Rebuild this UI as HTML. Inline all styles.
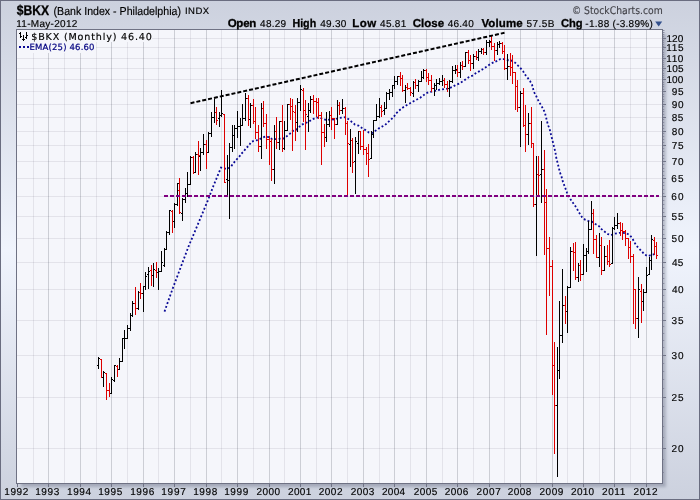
<!DOCTYPE html>
<html lang="en"><head><meta charset="utf-8"><title>$BKX Bank Index - Philadelphia</title>
<style>html,body{margin:0;padding:0;background:#d8dce8;overflow:hidden}svg{display:block}text{font-family:"Liberation Sans",Arial,sans-serif;text-rendering:geometricPrecision}</style>
</head><body>
<svg width="700" height="500" viewBox="0 0 700 500">
<defs><linearGradient id="bgg" x1="0" y1="0" x2="0" y2="1"><stop offset="0" stop-color="#ccd1de"/><stop offset="0.5" stop-color="#f0f4fd"/><stop offset="1" stop-color="#ccd1de"/></linearGradient><filter id="blur" x="-0.05" y="-0.05" width="1.1" height="1.1"><feGaussianBlur stdDeviation="1.6"/></filter><linearGradient id="sh" x1="0" y1="0" x2="1" y2="0"><stop offset="0" stop-color="#9a9db0"/><stop offset="1" stop-color="#d8dce8"/></linearGradient>
<linearGradient id="sv" x1="0" y1="0" x2="0" y2="1"><stop offset="0" stop-color="#9a9db0"/><stop offset="1" stop-color="#d8dce8"/></linearGradient></defs>
<rect x="0" y="0" width="700" height="500" fill="url(#bgg)"/>
<g shape-rendering="crispEdges">
<rect x="0" y="0" width="700" height="1" fill="#6a6d80"/>
<rect x="0" y="0" width="1" height="500" fill="#6a6d80"/>
<rect x="699" y="0" width="1" height="500" fill="#6a6d80"/>
<rect x="0" y="499" width="700" height="1" fill="#6a6d80"/>
</g><rect x="21" y="34" width="645" height="453" fill="#50546c" opacity="0.33" filter="url(#blur)"/><g shape-rendering="crispEdges">
<rect x="16" y="29" width="647" height="455" fill="#f5f6fb"/>
<rect x="33" y="30" width="1" height="453" fill="rgba(50,55,70,0.095)"/>
<rect x="48" y="30" width="1" height="453" fill="rgba(50,55,70,0.21)"/>
<rect x="64" y="30" width="1" height="453" fill="rgba(50,55,70,0.095)"/>
<rect x="80" y="30" width="1" height="453" fill="rgba(50,55,70,0.21)"/>
<rect x="96" y="30" width="1" height="453" fill="rgba(50,55,70,0.095)"/>
<rect x="111" y="30" width="1" height="453" fill="rgba(50,55,70,0.21)"/>
<rect x="127" y="30" width="1" height="453" fill="rgba(50,55,70,0.095)"/>
<rect x="143" y="30" width="1" height="453" fill="rgba(50,55,70,0.21)"/>
<rect x="158" y="30" width="1" height="453" fill="rgba(50,55,70,0.095)"/>
<rect x="174" y="30" width="1" height="453" fill="rgba(50,55,70,0.21)"/>
<rect x="190" y="30" width="1" height="453" fill="rgba(50,55,70,0.095)"/>
<rect x="206" y="30" width="1" height="453" fill="rgba(50,55,70,0.21)"/>
<rect x="221" y="30" width="1" height="453" fill="rgba(50,55,70,0.095)"/>
<rect x="237" y="30" width="1" height="453" fill="rgba(50,55,70,0.21)"/>
<rect x="253" y="30" width="1" height="453" fill="rgba(50,55,70,0.095)"/>
<rect x="269" y="30" width="1" height="453" fill="rgba(50,55,70,0.21)"/>
<rect x="284" y="30" width="1" height="453" fill="rgba(50,55,70,0.095)"/>
<rect x="300" y="30" width="1" height="453" fill="rgba(50,55,70,0.21)"/>
<rect x="316" y="30" width="1" height="453" fill="rgba(50,55,70,0.095)"/>
<rect x="331" y="30" width="1" height="453" fill="rgba(50,55,70,0.21)"/>
<rect x="347" y="30" width="1" height="453" fill="rgba(50,55,70,0.095)"/>
<rect x="363" y="30" width="1" height="453" fill="rgba(50,55,70,0.21)"/>
<rect x="379" y="30" width="1" height="453" fill="rgba(50,55,70,0.095)"/>
<rect x="394" y="30" width="1" height="453" fill="rgba(50,55,70,0.21)"/>
<rect x="410" y="30" width="1" height="453" fill="rgba(50,55,70,0.095)"/>
<rect x="426" y="30" width="1" height="453" fill="rgba(50,55,70,0.21)"/>
<rect x="442" y="30" width="1" height="453" fill="rgba(50,55,70,0.095)"/>
<rect x="457" y="30" width="1" height="453" fill="rgba(50,55,70,0.21)"/>
<rect x="473" y="30" width="1" height="453" fill="rgba(50,55,70,0.095)"/>
<rect x="489" y="30" width="1" height="453" fill="rgba(50,55,70,0.21)"/>
<rect x="504" y="30" width="1" height="453" fill="rgba(50,55,70,0.095)"/>
<rect x="520" y="30" width="1" height="453" fill="rgba(50,55,70,0.21)"/>
<rect x="536" y="30" width="1" height="453" fill="rgba(50,55,70,0.095)"/>
<rect x="552" y="30" width="1" height="453" fill="rgba(50,55,70,0.21)"/>
<rect x="567" y="30" width="1" height="453" fill="rgba(50,55,70,0.095)"/>
<rect x="583" y="30" width="1" height="453" fill="rgba(50,55,70,0.21)"/>
<rect x="599" y="30" width="1" height="453" fill="rgba(50,55,70,0.095)"/>
<rect x="614" y="30" width="1" height="453" fill="rgba(50,55,70,0.21)"/>
<rect x="630" y="30" width="1" height="453" fill="rgba(50,55,70,0.095)"/>
<rect x="646" y="30" width="1" height="453" fill="rgba(50,55,70,0.21)"/>
<rect x="17" y="448" width="645" height="1" fill="rgba(50,55,70,0.095)"/>
<rect x="17" y="397" width="645" height="1" fill="rgba(50,55,70,0.095)"/>
<rect x="17" y="355" width="645" height="1" fill="rgba(50,55,70,0.095)"/>
<rect x="17" y="320" width="645" height="1" fill="rgba(50,55,70,0.095)"/>
<rect x="17" y="289" width="645" height="1" fill="rgba(50,55,70,0.095)"/>
<rect x="17" y="262" width="645" height="1" fill="rgba(50,55,70,0.095)"/>
<rect x="17" y="238" width="645" height="1" fill="rgba(50,55,70,0.095)"/>
<rect x="17" y="216" width="645" height="1" fill="rgba(50,55,70,0.095)"/>
<rect x="17" y="196" width="645" height="1" fill="rgba(50,55,70,0.095)"/>
<rect x="17" y="178" width="645" height="1" fill="rgba(50,55,70,0.095)"/>
<rect x="17" y="161" width="645" height="1" fill="rgba(50,55,70,0.095)"/>
<rect x="17" y="145" width="645" height="1" fill="rgba(50,55,70,0.095)"/>
<rect x="17" y="131" width="645" height="1" fill="rgba(50,55,70,0.095)"/>
<rect x="17" y="117" width="645" height="1" fill="rgba(50,55,70,0.095)"/>
<rect x="17" y="104" width="645" height="1" fill="rgba(50,55,70,0.095)"/>
<rect x="17" y="91" width="645" height="1" fill="rgba(50,55,70,0.095)"/>
<rect x="17" y="79" width="645" height="1" fill="rgba(50,55,70,0.095)"/>
<rect x="17" y="68" width="645" height="1" fill="rgba(50,55,70,0.095)"/>
<rect x="17" y="58" width="645" height="1" fill="rgba(50,55,70,0.095)"/>
<rect x="17" y="47" width="645" height="1" fill="rgba(50,55,70,0.095)"/>
<rect x="17" y="38" width="645" height="1" fill="rgba(50,55,70,0.095)"/>
<rect x="17" y="30" width="135" height="12" fill="#f5f6fb"/>
<rect x="17" y="42" width="79" height="11" fill="#f5f6fb"/>
<rect x="16" y="29" width="647" height="1" fill="#6f7284"/>
<rect x="16" y="483" width="647" height="1" fill="#6f7284"/>
<rect x="16" y="29" width="1" height="455" fill="#6f7284"/>
<rect x="662" y="29" width="1" height="455" fill="#6f7284"/>
<rect x="663" y="472" width="1" height="1" fill="#8a8da0"/><rect x="664" y="472" width="1" height="1" fill="#aeb1c2"/>
<rect x="663" y="459" width="1" height="1" fill="#8a8da0"/><rect x="664" y="459" width="1" height="1" fill="#aeb1c2"/>
<rect x="663" y="448" width="3" height="1" fill="#74778a"/>
<rect x="663" y="437" width="1" height="1" fill="#8a8da0"/><rect x="664" y="437" width="1" height="1" fill="#aeb1c2"/>
<rect x="663" y="426" width="1" height="1" fill="#8a8da0"/><rect x="664" y="426" width="1" height="1" fill="#aeb1c2"/>
<rect x="663" y="416" width="1" height="1" fill="#8a8da0"/><rect x="664" y="416" width="1" height="1" fill="#aeb1c2"/>
<rect x="663" y="406" width="1" height="1" fill="#8a8da0"/><rect x="664" y="406" width="1" height="1" fill="#aeb1c2"/>
<rect x="663" y="397" width="3" height="1" fill="#74778a"/>
<rect x="663" y="388" width="1" height="1" fill="#8a8da0"/><rect x="664" y="388" width="1" height="1" fill="#aeb1c2"/>
<rect x="663" y="379" width="1" height="1" fill="#8a8da0"/><rect x="664" y="379" width="1" height="1" fill="#aeb1c2"/>
<rect x="663" y="371" width="1" height="1" fill="#8a8da0"/><rect x="664" y="371" width="1" height="1" fill="#aeb1c2"/>
<rect x="663" y="363" width="1" height="1" fill="#8a8da0"/><rect x="664" y="363" width="1" height="1" fill="#aeb1c2"/>
<rect x="663" y="355" width="3" height="1" fill="#74778a"/>
<rect x="663" y="347" width="1" height="1" fill="#8a8da0"/><rect x="664" y="347" width="1" height="1" fill="#aeb1c2"/>
<rect x="663" y="340" width="1" height="1" fill="#8a8da0"/><rect x="664" y="340" width="1" height="1" fill="#aeb1c2"/>
<rect x="663" y="333" width="1" height="1" fill="#8a8da0"/><rect x="664" y="333" width="1" height="1" fill="#aeb1c2"/>
<rect x="663" y="326" width="1" height="1" fill="#8a8da0"/><rect x="664" y="326" width="1" height="1" fill="#aeb1c2"/>
<rect x="663" y="320" width="3" height="1" fill="#74778a"/>
<rect x="663" y="313" width="1" height="1" fill="#8a8da0"/><rect x="664" y="313" width="1" height="1" fill="#aeb1c2"/>
<rect x="663" y="307" width="1" height="1" fill="#8a8da0"/><rect x="664" y="307" width="1" height="1" fill="#aeb1c2"/>
<rect x="663" y="301" width="1" height="1" fill="#8a8da0"/><rect x="664" y="301" width="1" height="1" fill="#aeb1c2"/>
<rect x="663" y="295" width="1" height="1" fill="#8a8da0"/><rect x="664" y="295" width="1" height="1" fill="#aeb1c2"/>
<rect x="663" y="289" width="3" height="1" fill="#74778a"/>
<rect x="663" y="283" width="1" height="1" fill="#8a8da0"/><rect x="664" y="283" width="1" height="1" fill="#aeb1c2"/>
<rect x="663" y="278" width="1" height="1" fill="#8a8da0"/><rect x="664" y="278" width="1" height="1" fill="#aeb1c2"/>
<rect x="663" y="273" width="1" height="1" fill="#8a8da0"/><rect x="664" y="273" width="1" height="1" fill="#aeb1c2"/>
<rect x="663" y="267" width="1" height="1" fill="#8a8da0"/><rect x="664" y="267" width="1" height="1" fill="#aeb1c2"/>
<rect x="663" y="262" width="3" height="1" fill="#74778a"/>
<rect x="663" y="257" width="1" height="1" fill="#8a8da0"/><rect x="664" y="257" width="1" height="1" fill="#aeb1c2"/>
<rect x="663" y="252" width="1" height="1" fill="#8a8da0"/><rect x="664" y="252" width="1" height="1" fill="#aeb1c2"/>
<rect x="663" y="247" width="1" height="1" fill="#8a8da0"/><rect x="664" y="247" width="1" height="1" fill="#aeb1c2"/>
<rect x="663" y="243" width="1" height="1" fill="#8a8da0"/><rect x="664" y="243" width="1" height="1" fill="#aeb1c2"/>
<rect x="663" y="238" width="3" height="1" fill="#74778a"/>
<rect x="663" y="234" width="1" height="1" fill="#8a8da0"/><rect x="664" y="234" width="1" height="1" fill="#aeb1c2"/>
<rect x="663" y="229" width="1" height="1" fill="#8a8da0"/><rect x="664" y="229" width="1" height="1" fill="#aeb1c2"/>
<rect x="663" y="225" width="1" height="1" fill="#8a8da0"/><rect x="664" y="225" width="1" height="1" fill="#aeb1c2"/>
<rect x="663" y="220" width="1" height="1" fill="#8a8da0"/><rect x="664" y="220" width="1" height="1" fill="#aeb1c2"/>
<rect x="663" y="216" width="3" height="1" fill="#74778a"/>
<rect x="663" y="212" width="1" height="1" fill="#8a8da0"/><rect x="664" y="212" width="1" height="1" fill="#aeb1c2"/>
<rect x="663" y="208" width="1" height="1" fill="#8a8da0"/><rect x="664" y="208" width="1" height="1" fill="#aeb1c2"/>
<rect x="663" y="204" width="1" height="1" fill="#8a8da0"/><rect x="664" y="204" width="1" height="1" fill="#aeb1c2"/>
<rect x="663" y="200" width="1" height="1" fill="#8a8da0"/><rect x="664" y="200" width="1" height="1" fill="#aeb1c2"/>
<rect x="663" y="196" width="3" height="1" fill="#74778a"/>
<rect x="663" y="193" width="1" height="1" fill="#8a8da0"/><rect x="664" y="193" width="1" height="1" fill="#aeb1c2"/>
<rect x="663" y="189" width="1" height="1" fill="#8a8da0"/><rect x="664" y="189" width="1" height="1" fill="#aeb1c2"/>
<rect x="663" y="185" width="1" height="1" fill="#8a8da0"/><rect x="664" y="185" width="1" height="1" fill="#aeb1c2"/>
<rect x="663" y="182" width="1" height="1" fill="#8a8da0"/><rect x="664" y="182" width="1" height="1" fill="#aeb1c2"/>
<rect x="663" y="178" width="3" height="1" fill="#74778a"/>
<rect x="663" y="175" width="1" height="1" fill="#8a8da0"/><rect x="664" y="175" width="1" height="1" fill="#aeb1c2"/>
<rect x="663" y="171" width="1" height="1" fill="#8a8da0"/><rect x="664" y="171" width="1" height="1" fill="#aeb1c2"/>
<rect x="663" y="168" width="1" height="1" fill="#8a8da0"/><rect x="664" y="168" width="1" height="1" fill="#aeb1c2"/>
<rect x="663" y="164" width="1" height="1" fill="#8a8da0"/><rect x="664" y="164" width="1" height="1" fill="#aeb1c2"/>
<rect x="663" y="161" width="3" height="1" fill="#74778a"/>
<rect x="663" y="158" width="1" height="1" fill="#8a8da0"/><rect x="664" y="158" width="1" height="1" fill="#aeb1c2"/>
<rect x="663" y="155" width="1" height="1" fill="#8a8da0"/><rect x="664" y="155" width="1" height="1" fill="#aeb1c2"/>
<rect x="663" y="151" width="1" height="1" fill="#8a8da0"/><rect x="664" y="151" width="1" height="1" fill="#aeb1c2"/>
<rect x="663" y="148" width="1" height="1" fill="#8a8da0"/><rect x="664" y="148" width="1" height="1" fill="#aeb1c2"/>
<rect x="663" y="145" width="3" height="1" fill="#74778a"/>
<rect x="663" y="142" width="1" height="1" fill="#8a8da0"/><rect x="664" y="142" width="1" height="1" fill="#aeb1c2"/>
<rect x="663" y="139" width="1" height="1" fill="#8a8da0"/><rect x="664" y="139" width="1" height="1" fill="#aeb1c2"/>
<rect x="663" y="136" width="1" height="1" fill="#8a8da0"/><rect x="664" y="136" width="1" height="1" fill="#aeb1c2"/>
<rect x="663" y="133" width="1" height="1" fill="#8a8da0"/><rect x="664" y="133" width="1" height="1" fill="#aeb1c2"/>
<rect x="663" y="131" width="3" height="1" fill="#74778a"/>
<rect x="663" y="128" width="1" height="1" fill="#8a8da0"/><rect x="664" y="128" width="1" height="1" fill="#aeb1c2"/>
<rect x="663" y="125" width="1" height="1" fill="#8a8da0"/><rect x="664" y="125" width="1" height="1" fill="#aeb1c2"/>
<rect x="663" y="122" width="1" height="1" fill="#8a8da0"/><rect x="664" y="122" width="1" height="1" fill="#aeb1c2"/>
<rect x="663" y="119" width="1" height="1" fill="#8a8da0"/><rect x="664" y="119" width="1" height="1" fill="#aeb1c2"/>
<rect x="663" y="117" width="3" height="1" fill="#74778a"/>
<rect x="663" y="114" width="1" height="1" fill="#8a8da0"/><rect x="664" y="114" width="1" height="1" fill="#aeb1c2"/>
<rect x="663" y="111" width="1" height="1" fill="#8a8da0"/><rect x="664" y="111" width="1" height="1" fill="#aeb1c2"/>
<rect x="663" y="109" width="1" height="1" fill="#8a8da0"/><rect x="664" y="109" width="1" height="1" fill="#aeb1c2"/>
<rect x="663" y="106" width="1" height="1" fill="#8a8da0"/><rect x="664" y="106" width="1" height="1" fill="#aeb1c2"/>
<rect x="663" y="104" width="3" height="1" fill="#74778a"/>
<rect x="663" y="101" width="1" height="1" fill="#8a8da0"/><rect x="664" y="101" width="1" height="1" fill="#aeb1c2"/>
<rect x="663" y="99" width="1" height="1" fill="#8a8da0"/><rect x="664" y="99" width="1" height="1" fill="#aeb1c2"/>
<rect x="663" y="96" width="1" height="1" fill="#8a8da0"/><rect x="664" y="96" width="1" height="1" fill="#aeb1c2"/>
<rect x="663" y="94" width="1" height="1" fill="#8a8da0"/><rect x="664" y="94" width="1" height="1" fill="#aeb1c2"/>
<rect x="663" y="91" width="3" height="1" fill="#74778a"/>
<rect x="663" y="89" width="1" height="1" fill="#8a8da0"/><rect x="664" y="89" width="1" height="1" fill="#aeb1c2"/>
<rect x="663" y="86" width="1" height="1" fill="#8a8da0"/><rect x="664" y="86" width="1" height="1" fill="#aeb1c2"/>
<rect x="663" y="84" width="1" height="1" fill="#8a8da0"/><rect x="664" y="84" width="1" height="1" fill="#aeb1c2"/>
<rect x="663" y="82" width="1" height="1" fill="#8a8da0"/><rect x="664" y="82" width="1" height="1" fill="#aeb1c2"/>
<rect x="663" y="79" width="3" height="1" fill="#74778a"/>
<rect x="663" y="77" width="1" height="1" fill="#8a8da0"/><rect x="664" y="77" width="1" height="1" fill="#aeb1c2"/>
<rect x="663" y="75" width="1" height="1" fill="#8a8da0"/><rect x="664" y="75" width="1" height="1" fill="#aeb1c2"/>
<rect x="663" y="73" width="1" height="1" fill="#8a8da0"/><rect x="664" y="73" width="1" height="1" fill="#aeb1c2"/>
<rect x="663" y="70" width="1" height="1" fill="#8a8da0"/><rect x="664" y="70" width="1" height="1" fill="#aeb1c2"/>
<rect x="663" y="68" width="3" height="1" fill="#74778a"/>
<rect x="663" y="66" width="1" height="1" fill="#8a8da0"/><rect x="664" y="66" width="1" height="1" fill="#aeb1c2"/>
<rect x="663" y="64" width="1" height="1" fill="#8a8da0"/><rect x="664" y="64" width="1" height="1" fill="#aeb1c2"/>
<rect x="663" y="62" width="1" height="1" fill="#8a8da0"/><rect x="664" y="62" width="1" height="1" fill="#aeb1c2"/>
<rect x="663" y="60" width="1" height="1" fill="#8a8da0"/><rect x="664" y="60" width="1" height="1" fill="#aeb1c2"/>
<rect x="663" y="58" width="3" height="1" fill="#74778a"/>
<rect x="663" y="56" width="1" height="1" fill="#8a8da0"/><rect x="664" y="56" width="1" height="1" fill="#aeb1c2"/>
<rect x="663" y="54" width="1" height="1" fill="#8a8da0"/><rect x="664" y="54" width="1" height="1" fill="#aeb1c2"/>
<rect x="663" y="52" width="1" height="1" fill="#8a8da0"/><rect x="664" y="52" width="1" height="1" fill="#aeb1c2"/>
<rect x="663" y="49" width="1" height="1" fill="#8a8da0"/><rect x="664" y="49" width="1" height="1" fill="#aeb1c2"/>
<rect x="663" y="47" width="3" height="1" fill="#74778a"/>
<rect x="663" y="46" width="1" height="1" fill="#8a8da0"/><rect x="664" y="46" width="1" height="1" fill="#aeb1c2"/>
<rect x="663" y="44" width="1" height="1" fill="#8a8da0"/><rect x="664" y="44" width="1" height="1" fill="#aeb1c2"/>
<rect x="663" y="42" width="1" height="1" fill="#8a8da0"/><rect x="664" y="42" width="1" height="1" fill="#aeb1c2"/>
<rect x="663" y="40" width="1" height="1" fill="#8a8da0"/><rect x="664" y="40" width="1" height="1" fill="#aeb1c2"/>
<rect x="663" y="38" width="3" height="1" fill="#74778a"/>
<rect x="663" y="36" width="1" height="1" fill="#8a8da0"/><rect x="664" y="36" width="1" height="1" fill="#aeb1c2"/>
<rect x="663" y="34" width="1" height="1" fill="#8a8da0"/><rect x="664" y="34" width="1" height="1" fill="#aeb1c2"/>
<rect x="663" y="32" width="1" height="1" fill="#8a8da0"/><rect x="664" y="32" width="1" height="1" fill="#aeb1c2"/>
<rect x="663" y="30" width="1" height="1" fill="#8a8da0"/><rect x="664" y="30" width="1" height="1" fill="#aeb1c2"/>
<rect x="17" y="484" width="1" height="3" fill="#6f7284"/>
<rect x="48" y="484" width="1" height="3" fill="#6f7284"/>
<rect x="80" y="484" width="1" height="3" fill="#6f7284"/>
<rect x="111" y="484" width="1" height="3" fill="#6f7284"/>
<rect x="143" y="484" width="1" height="3" fill="#6f7284"/>
<rect x="174" y="484" width="1" height="3" fill="#6f7284"/>
<rect x="206" y="484" width="1" height="3" fill="#6f7284"/>
<rect x="237" y="484" width="1" height="3" fill="#6f7284"/>
<rect x="269" y="484" width="1" height="3" fill="#6f7284"/>
<rect x="300" y="484" width="1" height="3" fill="#6f7284"/>
<rect x="331" y="484" width="1" height="3" fill="#6f7284"/>
<rect x="363" y="484" width="1" height="3" fill="#6f7284"/>
<rect x="394" y="484" width="1" height="3" fill="#6f7284"/>
<rect x="426" y="484" width="1" height="3" fill="#6f7284"/>
<rect x="457" y="484" width="1" height="3" fill="#6f7284"/>
<rect x="489" y="484" width="1" height="3" fill="#6f7284"/>
<rect x="520" y="484" width="1" height="3" fill="#6f7284"/>
<rect x="552" y="484" width="1" height="3" fill="#6f7284"/>
<rect x="583" y="484" width="1" height="3" fill="#6f7284"/>
<rect x="614" y="484" width="1" height="3" fill="#6f7284"/>
<rect x="646" y="484" width="1" height="3" fill="#6f7284"/>
</g>
<polyline transform="translate(0,-0.4)" fill="none" stroke="#0a0a96" stroke-width="1.8" stroke-dasharray="1.9 2.15" points="164.5,312.0 172.3,290.0 188.5,247.0 207.8,201.0 213.5,186.0 221.0,168.0 224.0,169.0 228.0,169.0 231.0,167.0 233.5,163.5 236.5,160.0 239.0,157.5 241.5,154.0 244.0,151.5 246.0,148.5 249.0,146.0 251.0,142.5 254.5,141.0 258.0,140.5 261.5,138.5 265.0,137.0 269.0,137.5 272.0,139.5 276.0,139.5 280.0,139.0 283.5,139.0 287.0,136.5 290.0,134.0 292.5,131.5 296.0,130.5 299.0,127.5 302.0,125.0 305.5,123.5 309.0,122.0 312.0,120.0 316.0,118.0 319.5,118.0 323.0,119.5 327.0,120.5 331.0,119.5 334.5,120.0 338.0,118.5 342.0,118.0 345.5,117.5 349.0,120.0 352.0,122.5 355.0,125.0 358.5,126.0 362.0,128.5 365.5,130.5 369.0,133.0 372.0,133.5 375.0,131.5 378.5,129.0 382.0,127.0 385.0,125.5 388.0,122.5 391.0,120.0 394.0,117.0 396.0,114.0 399.0,111.0 402.0,108.5 405.0,106.5 408.5,104.5 412.0,102.5 415.5,100.5 419.0,99.0 422.5,96.5 425.5,94.0 429.0,92.5 432.5,92.0 436.0,91.0 440.0,90.0 444.0,89.5 448.0,89.0 452.0,87.5 455.5,85.5 459.0,84.0 462.5,82.0 466.0,79.5 469.0,77.5 472.5,76.0 476.0,73.5 479.5,71.5 483.0,69.5 486.0,67.5 489.5,65.0 493.0,63.0 496.5,61.5 500.0,59.5 504.0,59.5 507.5,60.5 511.5,61.0 515.0,63.0 517.5,65.5 520.5,68.5 523.0,71.5 525.0,75.0 527.5,78.0 530.0,81.5 532.0,85.0 533.0,89.0 534.0,92.5 536.0,96.0 537.5,99.5 539.5,103.0 541.5,106.5 543.5,110.0 545.0,113.5 546.0,117.5 547.0,121.5 548.0,125.5 549.5,129.0 550.5,133.0 551.5,137.0 552.5,141.0 553.5,145.0 554.5,149.0 555.5,153.0 556.0,157.0 557.0,161.0 558.0,165.0 559.0,169.0 560.0,173.0 561.5,177.0 562.5,181.0 564.0,185.0 565.5,189.0 567.0,193.0 569.0,197.0 571.0,200.5 573.5,204.0 576.0,207.5 578.0,211.0 580.0,214.5 582.0,217.5 585.0,220.0 588.5,221.5 592.0,222.0 595.5,224.5 599.0,226.5 601.5,229.5 604.5,232.0 608.0,234.5 611.0,235.5 615.0,234.0 619.0,233.3 623.0,233.3 626.8,233.8 630.2,236.0 632.5,239.1 634.5,242.8 636.2,245.8 639.1,249.0 642.0,252.0 644.4,254.8 647.8,256.5 651.7,255.3 655.6,254.4"/>
<g shape-rendering="crispEdges">
<rect x="98" y="357" width="1" height="12" fill="#000000"/>
<rect x="97" y="365" width="1" height="1" fill="#000000"/>
<rect x="99" y="358" width="1" height="1" fill="#000000"/>
<rect x="101" y="359" width="1" height="19" fill="#dd0000"/>
<rect x="100" y="359" width="1" height="1" fill="#dd0000"/>
<rect x="102" y="377" width="1" height="1" fill="#dd0000"/>
<rect x="103" y="371" width="1" height="16" fill="#000000"/>
<rect x="102" y="377" width="1" height="1" fill="#000000"/>
<rect x="104" y="372" width="1" height="1" fill="#000000"/>
<rect x="106" y="373" width="1" height="27" fill="#dd0000"/>
<rect x="105" y="373" width="1" height="1" fill="#dd0000"/>
<rect x="107" y="390" width="1" height="1" fill="#dd0000"/>
<rect x="109" y="383" width="1" height="14" fill="#dd0000"/>
<rect x="108" y="390" width="1" height="1" fill="#dd0000"/>
<rect x="110" y="393" width="1" height="1" fill="#dd0000"/>
<rect x="111" y="377" width="1" height="17" fill="#000000"/>
<rect x="110" y="393" width="1" height="1" fill="#000000"/>
<rect x="112" y="379" width="1" height="1" fill="#000000"/>
<rect x="114" y="365" width="1" height="17" fill="#000000"/>
<rect x="113" y="380" width="1" height="1" fill="#000000"/>
<rect x="115" y="365" width="1" height="1" fill="#000000"/>
<rect x="117" y="365" width="1" height="12" fill="#dd0000"/>
<rect x="116" y="366" width="1" height="1" fill="#dd0000"/>
<rect x="118" y="369" width="1" height="1" fill="#dd0000"/>
<rect x="119" y="358" width="1" height="12" fill="#000000"/>
<rect x="118" y="369" width="1" height="1" fill="#000000"/>
<rect x="120" y="361" width="1" height="1" fill="#000000"/>
<rect x="122" y="338" width="1" height="24" fill="#000000"/>
<rect x="121" y="361" width="1" height="1" fill="#000000"/>
<rect x="123" y="338" width="1" height="1" fill="#000000"/>
<rect x="124" y="330" width="1" height="19" fill="#000000"/>
<rect x="123" y="338" width="1" height="1" fill="#000000"/>
<rect x="125" y="338" width="1" height="1" fill="#000000"/>
<rect x="127" y="325" width="1" height="14" fill="#000000"/>
<rect x="126" y="338" width="1" height="1" fill="#000000"/>
<rect x="128" y="328" width="1" height="1" fill="#000000"/>
<rect x="130" y="313" width="1" height="18" fill="#000000"/>
<rect x="129" y="328" width="1" height="1" fill="#000000"/>
<rect x="131" y="315" width="1" height="1" fill="#000000"/>
<rect x="132" y="301" width="1" height="16" fill="#000000"/>
<rect x="131" y="315" width="1" height="1" fill="#000000"/>
<rect x="133" y="303" width="1" height="1" fill="#000000"/>
<rect x="135" y="287" width="1" height="28" fill="#dd0000"/>
<rect x="134" y="303" width="1" height="1" fill="#dd0000"/>
<rect x="136" y="308" width="1" height="1" fill="#dd0000"/>
<rect x="138" y="291" width="1" height="19" fill="#000000"/>
<rect x="137" y="308" width="1" height="1" fill="#000000"/>
<rect x="139" y="292" width="1" height="1" fill="#000000"/>
<rect x="140" y="283" width="1" height="16" fill="#dd0000"/>
<rect x="139" y="292" width="1" height="1" fill="#dd0000"/>
<rect x="141" y="293" width="1" height="1" fill="#dd0000"/>
<rect x="143" y="286" width="1" height="26" fill="#000000"/>
<rect x="142" y="293" width="1" height="1" fill="#000000"/>
<rect x="144" y="286" width="1" height="1" fill="#000000"/>
<rect x="145" y="272" width="1" height="18" fill="#000000"/>
<rect x="144" y="286" width="1" height="1" fill="#000000"/>
<rect x="146" y="276" width="1" height="1" fill="#000000"/>
<rect x="148" y="267" width="1" height="22" fill="#000000"/>
<rect x="147" y="274" width="1" height="1" fill="#000000"/>
<rect x="149" y="271" width="1" height="1" fill="#000000"/>
<rect x="151" y="265" width="1" height="21" fill="#dd0000"/>
<rect x="150" y="270" width="1" height="1" fill="#dd0000"/>
<rect x="152" y="275" width="1" height="1" fill="#dd0000"/>
<rect x="153" y="263" width="1" height="24" fill="#000000"/>
<rect x="152" y="275" width="1" height="1" fill="#000000"/>
<rect x="154" y="269" width="1" height="1" fill="#000000"/>
<rect x="156" y="262" width="1" height="16" fill="#dd0000"/>
<rect x="155" y="270" width="1" height="1" fill="#dd0000"/>
<rect x="157" y="272" width="1" height="1" fill="#dd0000"/>
<rect x="158" y="268" width="1" height="22" fill="#000000"/>
<rect x="157" y="272" width="1" height="1" fill="#000000"/>
<rect x="159" y="271" width="1" height="1" fill="#000000"/>
<rect x="161" y="251" width="1" height="21" fill="#000000"/>
<rect x="160" y="271" width="1" height="1" fill="#000000"/>
<rect x="162" y="262" width="1" height="1" fill="#000000"/>
<rect x="164" y="248" width="1" height="19" fill="#000000"/>
<rect x="163" y="265" width="1" height="1" fill="#000000"/>
<rect x="165" y="249" width="1" height="1" fill="#000000"/>
<rect x="166" y="231" width="1" height="19" fill="#000000"/>
<rect x="165" y="249" width="1" height="1" fill="#000000"/>
<rect x="167" y="232" width="1" height="1" fill="#000000"/>
<rect x="169" y="210" width="1" height="25" fill="#000000"/>
<rect x="168" y="232" width="1" height="1" fill="#000000"/>
<rect x="170" y="210" width="1" height="1" fill="#000000"/>
<rect x="172" y="210" width="1" height="23" fill="#dd0000"/>
<rect x="171" y="211" width="1" height="1" fill="#dd0000"/>
<rect x="173" y="221" width="1" height="1" fill="#dd0000"/>
<rect x="174" y="203" width="1" height="25" fill="#000000"/>
<rect x="173" y="221" width="1" height="1" fill="#000000"/>
<rect x="175" y="204" width="1" height="1" fill="#000000"/>
<rect x="177" y="183" width="1" height="23" fill="#000000"/>
<rect x="176" y="204" width="1" height="1" fill="#000000"/>
<rect x="178" y="183" width="1" height="1" fill="#000000"/>
<rect x="179" y="178" width="1" height="36" fill="#dd0000"/>
<rect x="178" y="190" width="1" height="1" fill="#dd0000"/>
<rect x="180" y="212" width="1" height="1" fill="#dd0000"/>
<rect x="182" y="198" width="1" height="23" fill="#000000"/>
<rect x="181" y="213" width="1" height="1" fill="#000000"/>
<rect x="183" y="199" width="1" height="1" fill="#000000"/>
<rect x="185" y="188" width="1" height="15" fill="#000000"/>
<rect x="184" y="199" width="1" height="1" fill="#000000"/>
<rect x="186" y="193" width="1" height="1" fill="#000000"/>
<rect x="187" y="172" width="1" height="25" fill="#000000"/>
<rect x="186" y="193" width="1" height="1" fill="#000000"/>
<rect x="188" y="184" width="1" height="1" fill="#000000"/>
<rect x="190" y="156" width="1" height="29" fill="#000000"/>
<rect x="189" y="184" width="1" height="1" fill="#000000"/>
<rect x="191" y="157" width="1" height="1" fill="#000000"/>
<rect x="193" y="156" width="1" height="18" fill="#dd0000"/>
<rect x="192" y="157" width="1" height="1" fill="#dd0000"/>
<rect x="194" y="172" width="1" height="1" fill="#dd0000"/>
<rect x="195" y="152" width="1" height="21" fill="#000000"/>
<rect x="194" y="172" width="1" height="1" fill="#000000"/>
<rect x="196" y="154" width="1" height="1" fill="#000000"/>
<rect x="198" y="141" width="1" height="34" fill="#dd0000"/>
<rect x="197" y="154" width="1" height="1" fill="#dd0000"/>
<rect x="199" y="155" width="1" height="1" fill="#dd0000"/>
<rect x="200" y="148" width="1" height="23" fill="#000000"/>
<rect x="199" y="156" width="1" height="1" fill="#000000"/>
<rect x="201" y="152" width="1" height="1" fill="#000000"/>
<rect x="203" y="134" width="1" height="21" fill="#000000"/>
<rect x="202" y="152" width="1" height="1" fill="#000000"/>
<rect x="204" y="144" width="1" height="1" fill="#000000"/>
<rect x="206" y="140" width="1" height="29" fill="#dd0000"/>
<rect x="205" y="144" width="1" height="1" fill="#dd0000"/>
<rect x="207" y="152" width="1" height="1" fill="#dd0000"/>
<rect x="208" y="132" width="1" height="21" fill="#000000"/>
<rect x="207" y="152" width="1" height="1" fill="#000000"/>
<rect x="209" y="133" width="1" height="1" fill="#000000"/>
<rect x="211" y="112" width="1" height="25" fill="#000000"/>
<rect x="210" y="133" width="1" height="1" fill="#000000"/>
<rect x="212" y="117" width="1" height="1" fill="#000000"/>
<rect x="214" y="99" width="1" height="24" fill="#000000"/>
<rect x="213" y="117" width="1" height="1" fill="#000000"/>
<rect x="215" y="112" width="1" height="1" fill="#000000"/>
<rect x="216" y="107" width="1" height="18" fill="#dd0000"/>
<rect x="215" y="112" width="1" height="1" fill="#dd0000"/>
<rect x="217" y="120" width="1" height="1" fill="#dd0000"/>
<rect x="219" y="112" width="1" height="15" fill="#000000"/>
<rect x="218" y="118" width="1" height="1" fill="#000000"/>
<rect x="220" y="115" width="1" height="1" fill="#000000"/>
<rect x="221" y="90" width="1" height="27" fill="#000000"/>
<rect x="220" y="115" width="1" height="1" fill="#000000"/>
<rect x="222" y="113" width="1" height="1" fill="#000000"/>
<rect x="224" y="114" width="1" height="69" fill="#dd0000"/>
<rect x="223" y="114" width="1" height="1" fill="#dd0000"/>
<rect x="225" y="182" width="1" height="1" fill="#dd0000"/>
<rect x="227" y="155" width="1" height="41" fill="#000000"/>
<rect x="226" y="179" width="1" height="1" fill="#000000"/>
<rect x="228" y="180" width="1" height="1" fill="#000000"/>
<rect x="229" y="143" width="1" height="76" fill="#000000"/>
<rect x="228" y="180" width="1" height="1" fill="#000000"/>
<rect x="230" y="147" width="1" height="1" fill="#000000"/>
<rect x="232" y="125" width="1" height="27" fill="#000000"/>
<rect x="231" y="147" width="1" height="1" fill="#000000"/>
<rect x="233" y="135" width="1" height="1" fill="#000000"/>
<rect x="234" y="125" width="1" height="24" fill="#000000"/>
<rect x="233" y="135" width="1" height="1" fill="#000000"/>
<rect x="235" y="128" width="1" height="1" fill="#000000"/>
<rect x="237" y="111" width="1" height="27" fill="#000000"/>
<rect x="236" y="128" width="1" height="1" fill="#000000"/>
<rect x="238" y="126" width="1" height="1" fill="#000000"/>
<rect x="240" y="118" width="1" height="28" fill="#000000"/>
<rect x="239" y="126" width="1" height="1" fill="#000000"/>
<rect x="241" y="125" width="1" height="1" fill="#000000"/>
<rect x="242" y="104" width="1" height="22" fill="#000000"/>
<rect x="241" y="125" width="1" height="1" fill="#000000"/>
<rect x="243" y="118" width="1" height="1" fill="#000000"/>
<rect x="245" y="93" width="1" height="28" fill="#000000"/>
<rect x="244" y="118" width="1" height="1" fill="#000000"/>
<rect x="246" y="98" width="1" height="1" fill="#000000"/>
<rect x="248" y="95" width="1" height="31" fill="#dd0000"/>
<rect x="247" y="98" width="1" height="1" fill="#dd0000"/>
<rect x="249" y="119" width="1" height="1" fill="#dd0000"/>
<rect x="250" y="103" width="1" height="25" fill="#000000"/>
<rect x="249" y="119" width="1" height="1" fill="#000000"/>
<rect x="251" y="105" width="1" height="1" fill="#000000"/>
<rect x="253" y="99" width="1" height="25" fill="#dd0000"/>
<rect x="252" y="105" width="1" height="1" fill="#dd0000"/>
<rect x="254" y="121" width="1" height="1" fill="#dd0000"/>
<rect x="255" y="107" width="1" height="32" fill="#dd0000"/>
<rect x="254" y="121" width="1" height="1" fill="#dd0000"/>
<rect x="256" y="132" width="1" height="1" fill="#dd0000"/>
<rect x="258" y="125" width="1" height="27" fill="#dd0000"/>
<rect x="257" y="132" width="1" height="1" fill="#dd0000"/>
<rect x="259" y="146" width="1" height="1" fill="#dd0000"/>
<rect x="261" y="103" width="1" height="56" fill="#000000"/>
<rect x="260" y="146" width="1" height="1" fill="#000000"/>
<rect x="262" y="108" width="1" height="1" fill="#000000"/>
<rect x="263" y="101" width="1" height="26" fill="#dd0000"/>
<rect x="262" y="108" width="1" height="1" fill="#dd0000"/>
<rect x="264" y="123" width="1" height="1" fill="#dd0000"/>
<rect x="266" y="114" width="1" height="35" fill="#dd0000"/>
<rect x="265" y="123" width="1" height="1" fill="#dd0000"/>
<rect x="267" y="139" width="1" height="1" fill="#dd0000"/>
<rect x="269" y="136" width="1" height="29" fill="#dd0000"/>
<rect x="268" y="139" width="1" height="1" fill="#dd0000"/>
<rect x="270" y="141" width="1" height="1" fill="#dd0000"/>
<rect x="271" y="139" width="1" height="42" fill="#dd0000"/>
<rect x="270" y="141" width="1" height="1" fill="#dd0000"/>
<rect x="272" y="169" width="1" height="1" fill="#dd0000"/>
<rect x="274" y="125" width="1" height="59" fill="#000000"/>
<rect x="273" y="169" width="1" height="1" fill="#000000"/>
<rect x="275" y="131" width="1" height="1" fill="#000000"/>
<rect x="276" y="117" width="1" height="32" fill="#dd0000"/>
<rect x="275" y="131" width="1" height="1" fill="#dd0000"/>
<rect x="277" y="142" width="1" height="1" fill="#dd0000"/>
<rect x="279" y="121" width="1" height="29" fill="#000000"/>
<rect x="278" y="142" width="1" height="1" fill="#000000"/>
<rect x="280" y="121" width="1" height="1" fill="#000000"/>
<rect x="282" y="105" width="1" height="47" fill="#dd0000"/>
<rect x="281" y="121" width="1" height="1" fill="#dd0000"/>
<rect x="283" y="148" width="1" height="1" fill="#dd0000"/>
<rect x="284" y="121" width="1" height="29" fill="#000000"/>
<rect x="283" y="148" width="1" height="1" fill="#000000"/>
<rect x="285" y="130" width="1" height="1" fill="#000000"/>
<rect x="287" y="104" width="1" height="27" fill="#000000"/>
<rect x="286" y="130" width="1" height="1" fill="#000000"/>
<rect x="288" y="104" width="1" height="1" fill="#000000"/>
<rect x="290" y="98" width="1" height="22" fill="#dd0000"/>
<rect x="289" y="104" width="1" height="1" fill="#dd0000"/>
<rect x="291" y="106" width="1" height="1" fill="#dd0000"/>
<rect x="292" y="99" width="1" height="52" fill="#dd0000"/>
<rect x="291" y="106" width="1" height="1" fill="#dd0000"/>
<rect x="293" y="111" width="1" height="1" fill="#dd0000"/>
<rect x="295" y="105" width="1" height="36" fill="#dd0000"/>
<rect x="294" y="112" width="1" height="1" fill="#dd0000"/>
<rect x="296" y="122" width="1" height="1" fill="#dd0000"/>
<rect x="297" y="98" width="1" height="34" fill="#000000"/>
<rect x="296" y="122" width="1" height="1" fill="#000000"/>
<rect x="298" y="102" width="1" height="1" fill="#000000"/>
<rect x="300" y="85" width="1" height="26" fill="#000000"/>
<rect x="299" y="102" width="1" height="1" fill="#000000"/>
<rect x="301" y="89" width="1" height="1" fill="#000000"/>
<rect x="303" y="88" width="1" height="34" fill="#dd0000"/>
<rect x="302" y="90" width="1" height="1" fill="#dd0000"/>
<rect x="304" y="110" width="1" height="1" fill="#dd0000"/>
<rect x="305" y="100" width="1" height="50" fill="#dd0000"/>
<rect x="304" y="110" width="1" height="1" fill="#dd0000"/>
<rect x="306" y="114" width="1" height="1" fill="#dd0000"/>
<rect x="308" y="103" width="1" height="29" fill="#000000"/>
<rect x="307" y="116" width="1" height="1" fill="#000000"/>
<rect x="309" y="110" width="1" height="1" fill="#000000"/>
<rect x="310" y="96" width="1" height="17" fill="#000000"/>
<rect x="309" y="110" width="1" height="1" fill="#000000"/>
<rect x="311" y="99" width="1" height="1" fill="#000000"/>
<rect x="313" y="95" width="1" height="19" fill="#dd0000"/>
<rect x="312" y="99" width="1" height="1" fill="#dd0000"/>
<rect x="314" y="101" width="1" height="1" fill="#dd0000"/>
<rect x="316" y="98" width="1" height="19" fill="#dd0000"/>
<rect x="315" y="101" width="1" height="1" fill="#dd0000"/>
<rect x="317" y="102" width="1" height="1" fill="#dd0000"/>
<rect x="318" y="98" width="1" height="21" fill="#dd0000"/>
<rect x="317" y="102" width="1" height="1" fill="#dd0000"/>
<rect x="319" y="115" width="1" height="1" fill="#dd0000"/>
<rect x="321" y="112" width="1" height="53" fill="#dd0000"/>
<rect x="320" y="115" width="1" height="1" fill="#dd0000"/>
<rect x="322" y="132" width="1" height="1" fill="#dd0000"/>
<rect x="324" y="124" width="1" height="23" fill="#dd0000"/>
<rect x="323" y="132" width="1" height="1" fill="#dd0000"/>
<rect x="325" y="137" width="1" height="1" fill="#dd0000"/>
<rect x="326" y="112" width="1" height="30" fill="#000000"/>
<rect x="325" y="137" width="1" height="1" fill="#000000"/>
<rect x="327" y="124" width="1" height="1" fill="#000000"/>
<rect x="329" y="111" width="1" height="16" fill="#000000"/>
<rect x="328" y="124" width="1" height="1" fill="#000000"/>
<rect x="330" y="115" width="1" height="1" fill="#000000"/>
<rect x="331" y="107" width="1" height="23" fill="#dd0000"/>
<rect x="330" y="115" width="1" height="1" fill="#dd0000"/>
<rect x="332" y="118" width="1" height="1" fill="#dd0000"/>
<rect x="334" y="118" width="1" height="21" fill="#dd0000"/>
<rect x="333" y="118" width="1" height="1" fill="#dd0000"/>
<rect x="335" y="124" width="1" height="1" fill="#dd0000"/>
<rect x="337" y="100" width="1" height="25" fill="#000000"/>
<rect x="336" y="124" width="1" height="1" fill="#000000"/>
<rect x="338" y="105" width="1" height="1" fill="#000000"/>
<rect x="339" y="102" width="1" height="13" fill="#dd0000"/>
<rect x="338" y="105" width="1" height="1" fill="#dd0000"/>
<rect x="340" y="110" width="1" height="1" fill="#dd0000"/>
<rect x="342" y="99" width="1" height="15" fill="#000000"/>
<rect x="341" y="110" width="1" height="1" fill="#000000"/>
<rect x="343" y="108" width="1" height="1" fill="#000000"/>
<rect x="345" y="107" width="1" height="28" fill="#dd0000"/>
<rect x="344" y="108" width="1" height="1" fill="#dd0000"/>
<rect x="346" y="123" width="1" height="1" fill="#dd0000"/>
<rect x="347" y="121" width="1" height="75" fill="#dd0000"/>
<rect x="346" y="123" width="1" height="1" fill="#dd0000"/>
<rect x="348" y="143" width="1" height="1" fill="#dd0000"/>
<rect x="350" y="129" width="1" height="38" fill="#000000"/>
<rect x="349" y="144" width="1" height="1" fill="#000000"/>
<rect x="351" y="140" width="1" height="1" fill="#000000"/>
<rect x="352" y="138" width="1" height="35" fill="#dd0000"/>
<rect x="351" y="140" width="1" height="1" fill="#dd0000"/>
<rect x="353" y="162" width="1" height="1" fill="#dd0000"/>
<rect x="355" y="137" width="1" height="57" fill="#000000"/>
<rect x="354" y="161" width="1" height="1" fill="#000000"/>
<rect x="356" y="141" width="1" height="1" fill="#000000"/>
<rect x="358" y="131" width="1" height="23" fill="#000000"/>
<rect x="357" y="143" width="1" height="1" fill="#000000"/>
<rect x="359" y="131" width="1" height="1" fill="#000000"/>
<rect x="360" y="131" width="1" height="19" fill="#dd0000"/>
<rect x="359" y="131" width="1" height="1" fill="#dd0000"/>
<rect x="361" y="146" width="1" height="1" fill="#dd0000"/>
<rect x="363" y="130" width="1" height="25" fill="#dd0000"/>
<rect x="362" y="146" width="1" height="1" fill="#dd0000"/>
<rect x="364" y="149" width="1" height="1" fill="#dd0000"/>
<rect x="366" y="147" width="1" height="18" fill="#dd0000"/>
<rect x="365" y="149" width="1" height="1" fill="#dd0000"/>
<rect x="367" y="153" width="1" height="1" fill="#dd0000"/>
<rect x="368" y="144" width="1" height="33" fill="#dd0000"/>
<rect x="367" y="153" width="1" height="1" fill="#dd0000"/>
<rect x="369" y="159" width="1" height="1" fill="#dd0000"/>
<rect x="371" y="131" width="1" height="28" fill="#000000"/>
<rect x="370" y="158" width="1" height="1" fill="#000000"/>
<rect x="372" y="134" width="1" height="1" fill="#000000"/>
<rect x="373" y="120" width="1" height="18" fill="#000000"/>
<rect x="372" y="134" width="1" height="1" fill="#000000"/>
<rect x="374" y="120" width="1" height="1" fill="#000000"/>
<rect x="376" y="104" width="1" height="17" fill="#000000"/>
<rect x="375" y="120" width="1" height="1" fill="#000000"/>
<rect x="377" y="116" width="1" height="1" fill="#000000"/>
<rect x="379" y="98" width="1" height="20" fill="#000000"/>
<rect x="378" y="116" width="1" height="1" fill="#000000"/>
<rect x="380" y="107" width="1" height="1" fill="#000000"/>
<rect x="381" y="105" width="1" height="12" fill="#dd0000"/>
<rect x="380" y="107" width="1" height="1" fill="#dd0000"/>
<rect x="382" y="111" width="1" height="1" fill="#dd0000"/>
<rect x="384" y="102" width="1" height="13" fill="#000000"/>
<rect x="383" y="110" width="1" height="1" fill="#000000"/>
<rect x="385" y="108" width="1" height="1" fill="#000000"/>
<rect x="386" y="92" width="1" height="17" fill="#000000"/>
<rect x="385" y="108" width="1" height="1" fill="#000000"/>
<rect x="387" y="93" width="1" height="1" fill="#000000"/>
<rect x="389" y="89" width="1" height="11" fill="#000000"/>
<rect x="388" y="93" width="1" height="1" fill="#000000"/>
<rect x="390" y="92" width="1" height="1" fill="#000000"/>
<rect x="392" y="85" width="1" height="12" fill="#000000"/>
<rect x="391" y="92" width="1" height="1" fill="#000000"/>
<rect x="393" y="85" width="1" height="1" fill="#000000"/>
<rect x="394" y="76" width="1" height="13" fill="#000000"/>
<rect x="393" y="85" width="1" height="1" fill="#000000"/>
<rect x="395" y="81" width="1" height="1" fill="#000000"/>
<rect x="397" y="76" width="1" height="9" fill="#000000"/>
<rect x="396" y="81" width="1" height="1" fill="#000000"/>
<rect x="398" y="76" width="1" height="1" fill="#000000"/>
<rect x="400" y="72" width="1" height="14" fill="#dd0000"/>
<rect x="399" y="76" width="1" height="1" fill="#dd0000"/>
<rect x="401" y="78" width="1" height="1" fill="#dd0000"/>
<rect x="402" y="75" width="1" height="17" fill="#dd0000"/>
<rect x="401" y="78" width="1" height="1" fill="#dd0000"/>
<rect x="403" y="90" width="1" height="1" fill="#dd0000"/>
<rect x="405" y="85" width="1" height="18" fill="#000000"/>
<rect x="404" y="90" width="1" height="1" fill="#000000"/>
<rect x="406" y="87" width="1" height="1" fill="#000000"/>
<rect x="407" y="83" width="1" height="7" fill="#dd0000"/>
<rect x="406" y="87" width="1" height="1" fill="#dd0000"/>
<rect x="408" y="88" width="1" height="1" fill="#dd0000"/>
<rect x="410" y="87" width="1" height="9" fill="#dd0000"/>
<rect x="409" y="88" width="1" height="1" fill="#dd0000"/>
<rect x="411" y="92" width="1" height="1" fill="#dd0000"/>
<rect x="413" y="81" width="1" height="16" fill="#000000"/>
<rect x="412" y="93" width="1" height="1" fill="#000000"/>
<rect x="414" y="82" width="1" height="1" fill="#000000"/>
<rect x="415" y="79" width="1" height="10" fill="#dd0000"/>
<rect x="414" y="82" width="1" height="1" fill="#dd0000"/>
<rect x="416" y="85" width="1" height="1" fill="#dd0000"/>
<rect x="418" y="80" width="1" height="12" fill="#000000"/>
<rect x="417" y="85" width="1" height="1" fill="#000000"/>
<rect x="419" y="81" width="1" height="1" fill="#000000"/>
<rect x="421" y="71" width="1" height="11" fill="#000000"/>
<rect x="420" y="81" width="1" height="1" fill="#000000"/>
<rect x="422" y="77" width="1" height="1" fill="#000000"/>
<rect x="423" y="69" width="1" height="10" fill="#000000"/>
<rect x="422" y="77" width="1" height="1" fill="#000000"/>
<rect x="424" y="70" width="1" height="1" fill="#000000"/>
<rect x="426" y="69" width="1" height="13" fill="#dd0000"/>
<rect x="425" y="70" width="1" height="1" fill="#dd0000"/>
<rect x="427" y="77" width="1" height="1" fill="#dd0000"/>
<rect x="428" y="73" width="1" height="12" fill="#dd0000"/>
<rect x="427" y="77" width="1" height="1" fill="#dd0000"/>
<rect x="429" y="80" width="1" height="1" fill="#dd0000"/>
<rect x="431" y="75" width="1" height="17" fill="#dd0000"/>
<rect x="430" y="80" width="1" height="1" fill="#dd0000"/>
<rect x="432" y="88" width="1" height="1" fill="#dd0000"/>
<rect x="434" y="83" width="1" height="13" fill="#000000"/>
<rect x="433" y="88" width="1" height="1" fill="#000000"/>
<rect x="435" y="85" width="1" height="1" fill="#000000"/>
<rect x="436" y="79" width="1" height="11" fill="#000000"/>
<rect x="435" y="85" width="1" height="1" fill="#000000"/>
<rect x="437" y="83" width="1" height="1" fill="#000000"/>
<rect x="439" y="78" width="1" height="7" fill="#000000"/>
<rect x="438" y="83" width="1" height="1" fill="#000000"/>
<rect x="440" y="81" width="1" height="1" fill="#000000"/>
<rect x="442" y="75" width="1" height="11" fill="#000000"/>
<rect x="441" y="81" width="1" height="1" fill="#000000"/>
<rect x="443" y="80" width="1" height="1" fill="#000000"/>
<rect x="444" y="78" width="1" height="10" fill="#dd0000"/>
<rect x="443" y="80" width="1" height="1" fill="#dd0000"/>
<rect x="445" y="84" width="1" height="1" fill="#dd0000"/>
<rect x="447" y="81" width="1" height="11" fill="#dd0000"/>
<rect x="446" y="84" width="1" height="1" fill="#dd0000"/>
<rect x="448" y="88" width="1" height="1" fill="#dd0000"/>
<rect x="449" y="80" width="1" height="17" fill="#000000"/>
<rect x="448" y="88" width="1" height="1" fill="#000000"/>
<rect x="450" y="81" width="1" height="1" fill="#000000"/>
<rect x="452" y="66" width="1" height="17" fill="#000000"/>
<rect x="451" y="81" width="1" height="1" fill="#000000"/>
<rect x="453" y="70" width="1" height="1" fill="#000000"/>
<rect x="455" y="65" width="1" height="9" fill="#000000"/>
<rect x="454" y="70" width="1" height="1" fill="#000000"/>
<rect x="456" y="69" width="1" height="1" fill="#000000"/>
<rect x="457" y="65" width="1" height="12" fill="#dd0000"/>
<rect x="456" y="70" width="1" height="1" fill="#dd0000"/>
<rect x="458" y="72" width="1" height="1" fill="#dd0000"/>
<rect x="460" y="62" width="1" height="16" fill="#000000"/>
<rect x="459" y="72" width="1" height="1" fill="#000000"/>
<rect x="461" y="65" width="1" height="1" fill="#000000"/>
<rect x="462" y="61" width="1" height="9" fill="#dd0000"/>
<rect x="461" y="65" width="1" height="1" fill="#dd0000"/>
<rect x="463" y="66" width="1" height="1" fill="#dd0000"/>
<rect x="465" y="52" width="1" height="15" fill="#000000"/>
<rect x="464" y="66" width="1" height="1" fill="#000000"/>
<rect x="466" y="52" width="1" height="1" fill="#000000"/>
<rect x="468" y="50" width="1" height="14" fill="#dd0000"/>
<rect x="467" y="52" width="1" height="1" fill="#dd0000"/>
<rect x="469" y="60" width="1" height="1" fill="#dd0000"/>
<rect x="470" y="55" width="1" height="16" fill="#dd0000"/>
<rect x="469" y="60" width="1" height="1" fill="#dd0000"/>
<rect x="471" y="63" width="1" height="1" fill="#dd0000"/>
<rect x="473" y="54" width="1" height="15" fill="#000000"/>
<rect x="472" y="63" width="1" height="1" fill="#000000"/>
<rect x="474" y="56" width="1" height="1" fill="#000000"/>
<rect x="476" y="51" width="1" height="9" fill="#dd0000"/>
<rect x="475" y="56" width="1" height="1" fill="#dd0000"/>
<rect x="477" y="57" width="1" height="1" fill="#dd0000"/>
<rect x="478" y="49" width="1" height="12" fill="#000000"/>
<rect x="477" y="57" width="1" height="1" fill="#000000"/>
<rect x="479" y="51" width="1" height="1" fill="#000000"/>
<rect x="481" y="48" width="1" height="6" fill="#000000"/>
<rect x="480" y="51" width="1" height="1" fill="#000000"/>
<rect x="482" y="49" width="1" height="1" fill="#000000"/>
<rect x="483" y="48" width="1" height="7" fill="#dd0000"/>
<rect x="482" y="49" width="1" height="1" fill="#dd0000"/>
<rect x="484" y="52" width="1" height="1" fill="#dd0000"/>
<rect x="486" y="40" width="1" height="15" fill="#000000"/>
<rect x="485" y="52" width="1" height="1" fill="#000000"/>
<rect x="487" y="42" width="1" height="1" fill="#000000"/>
<rect x="489" y="40" width="1" height="7" fill="#000000"/>
<rect x="488" y="42" width="1" height="1" fill="#000000"/>
<rect x="490" y="41" width="1" height="1" fill="#000000"/>
<rect x="491" y="36" width="1" height="14" fill="#dd0000"/>
<rect x="490" y="42" width="1" height="1" fill="#dd0000"/>
<rect x="492" y="46" width="1" height="1" fill="#dd0000"/>
<rect x="494" y="43" width="1" height="18" fill="#dd0000"/>
<rect x="493" y="46" width="1" height="1" fill="#dd0000"/>
<rect x="495" y="50" width="1" height="1" fill="#dd0000"/>
<rect x="497" y="42" width="1" height="13" fill="#000000"/>
<rect x="496" y="50" width="1" height="1" fill="#000000"/>
<rect x="498" y="44" width="1" height="1" fill="#000000"/>
<rect x="499" y="41" width="1" height="7" fill="#000000"/>
<rect x="498" y="44" width="1" height="1" fill="#000000"/>
<rect x="500" y="43" width="1" height="1" fill="#000000"/>
<rect x="502" y="42" width="1" height="12" fill="#dd0000"/>
<rect x="501" y="43" width="1" height="1" fill="#dd0000"/>
<rect x="503" y="51" width="1" height="1" fill="#dd0000"/>
<rect x="504" y="45" width="1" height="25" fill="#dd0000"/>
<rect x="503" y="51" width="1" height="1" fill="#dd0000"/>
<rect x="505" y="68" width="1" height="1" fill="#dd0000"/>
<rect x="507" y="54" width="1" height="26" fill="#000000"/>
<rect x="506" y="68" width="1" height="1" fill="#000000"/>
<rect x="508" y="66" width="1" height="1" fill="#000000"/>
<rect x="510" y="53" width="1" height="23" fill="#dd0000"/>
<rect x="509" y="66" width="1" height="1" fill="#dd0000"/>
<rect x="511" y="67" width="1" height="1" fill="#dd0000"/>
<rect x="512" y="55" width="1" height="29" fill="#dd0000"/>
<rect x="511" y="67" width="1" height="1" fill="#dd0000"/>
<rect x="513" y="72" width="1" height="1" fill="#dd0000"/>
<rect x="515" y="72" width="1" height="38" fill="#dd0000"/>
<rect x="514" y="72" width="1" height="1" fill="#dd0000"/>
<rect x="516" y="86" width="1" height="1" fill="#dd0000"/>
<rect x="517" y="80" width="1" height="32" fill="#dd0000"/>
<rect x="516" y="86" width="1" height="1" fill="#dd0000"/>
<rect x="518" y="107" width="1" height="1" fill="#dd0000"/>
<rect x="520" y="91" width="1" height="56" fill="#000000"/>
<rect x="519" y="107" width="1" height="1" fill="#000000"/>
<rect x="521" y="93" width="1" height="1" fill="#000000"/>
<rect x="523" y="88" width="1" height="39" fill="#dd0000"/>
<rect x="522" y="93" width="1" height="1" fill="#dd0000"/>
<rect x="524" y="125" width="1" height="1" fill="#dd0000"/>
<rect x="525" y="105" width="1" height="47" fill="#dd0000"/>
<rect x="524" y="125" width="1" height="1" fill="#dd0000"/>
<rect x="526" y="134" width="1" height="1" fill="#dd0000"/>
<rect x="528" y="113" width="1" height="32" fill="#000000"/>
<rect x="527" y="134" width="1" height="1" fill="#000000"/>
<rect x="529" y="123" width="1" height="1" fill="#000000"/>
<rect x="531" y="107" width="1" height="41" fill="#dd0000"/>
<rect x="530" y="123" width="1" height="1" fill="#dd0000"/>
<rect x="532" y="143" width="1" height="1" fill="#dd0000"/>
<rect x="533" y="143" width="1" height="64" fill="#dd0000"/>
<rect x="532" y="143" width="1" height="1" fill="#dd0000"/>
<rect x="534" y="204" width="1" height="1" fill="#dd0000"/>
<rect x="536" y="156" width="1" height="100" fill="#000000"/>
<rect x="535" y="204" width="1" height="1" fill="#000000"/>
<rect x="537" y="174" width="1" height="1" fill="#000000"/>
<rect x="538" y="156" width="1" height="41" fill="#dd0000"/>
<rect x="537" y="174" width="1" height="1" fill="#dd0000"/>
<rect x="539" y="175" width="1" height="1" fill="#dd0000"/>
<rect x="541" y="121" width="1" height="82" fill="#000000"/>
<rect x="540" y="174" width="1" height="1" fill="#000000"/>
<rect x="542" y="169" width="1" height="1" fill="#000000"/>
<rect x="544" y="150" width="1" height="105" fill="#dd0000"/>
<rect x="543" y="169" width="1" height="1" fill="#dd0000"/>
<rect x="545" y="202" width="1" height="1" fill="#dd0000"/>
<rect x="546" y="189" width="1" height="146" fill="#dd0000"/>
<rect x="545" y="202" width="1" height="1" fill="#dd0000"/>
<rect x="547" y="248" width="1" height="1" fill="#dd0000"/>
<rect x="549" y="237" width="1" height="59" fill="#dd0000"/>
<rect x="548" y="248" width="1" height="1" fill="#dd0000"/>
<rect x="550" y="266" width="1" height="1" fill="#dd0000"/>
<rect x="552" y="260" width="1" height="135" fill="#dd0000"/>
<rect x="551" y="266" width="1" height="1" fill="#dd0000"/>
<rect x="553" y="365" width="1" height="1" fill="#dd0000"/>
<rect x="554" y="342" width="1" height="112" fill="#dd0000"/>
<rect x="553" y="365" width="1" height="1" fill="#dd0000"/>
<rect x="555" y="405" width="1" height="1" fill="#dd0000"/>
<rect x="557" y="347" width="1" height="130" fill="#000000"/>
<rect x="556" y="405" width="1" height="1" fill="#000000"/>
<rect x="558" y="370" width="1" height="1" fill="#000000"/>
<rect x="559" y="301" width="1" height="78" fill="#000000"/>
<rect x="558" y="370" width="1" height="1" fill="#000000"/>
<rect x="560" y="335" width="1" height="1" fill="#000000"/>
<rect x="562" y="269" width="1" height="74" fill="#000000"/>
<rect x="561" y="335" width="1" height="1" fill="#000000"/>
<rect x="563" y="305" width="1" height="1" fill="#000000"/>
<rect x="565" y="296" width="1" height="28" fill="#dd0000"/>
<rect x="564" y="305" width="1" height="1" fill="#dd0000"/>
<rect x="566" y="311" width="1" height="1" fill="#dd0000"/>
<rect x="567" y="286" width="1" height="47" fill="#000000"/>
<rect x="566" y="311" width="1" height="1" fill="#000000"/>
<rect x="568" y="287" width="1" height="1" fill="#000000"/>
<rect x="570" y="247" width="1" height="41" fill="#000000"/>
<rect x="569" y="287" width="1" height="1" fill="#000000"/>
<rect x="571" y="251" width="1" height="1" fill="#000000"/>
<rect x="573" y="243" width="1" height="28" fill="#dd0000"/>
<rect x="572" y="251" width="1" height="1" fill="#dd0000"/>
<rect x="574" y="252" width="1" height="1" fill="#dd0000"/>
<rect x="575" y="242" width="1" height="38" fill="#dd0000"/>
<rect x="574" y="252" width="1" height="1" fill="#dd0000"/>
<rect x="576" y="277" width="1" height="1" fill="#dd0000"/>
<rect x="578" y="263" width="1" height="19" fill="#000000"/>
<rect x="577" y="277" width="1" height="1" fill="#000000"/>
<rect x="579" y="265" width="1" height="1" fill="#000000"/>
<rect x="580" y="260" width="1" height="21" fill="#dd0000"/>
<rect x="579" y="265" width="1" height="1" fill="#dd0000"/>
<rect x="581" y="274" width="1" height="1" fill="#dd0000"/>
<rect x="583" y="244" width="1" height="31" fill="#000000"/>
<rect x="582" y="274" width="1" height="1" fill="#000000"/>
<rect x="584" y="255" width="1" height="1" fill="#000000"/>
<rect x="586" y="248" width="1" height="24" fill="#000000"/>
<rect x="585" y="255" width="1" height="1" fill="#000000"/>
<rect x="587" y="251" width="1" height="1" fill="#000000"/>
<rect x="588" y="221" width="1" height="33" fill="#000000"/>
<rect x="587" y="251" width="1" height="1" fill="#000000"/>
<rect x="589" y="229" width="1" height="1" fill="#000000"/>
<rect x="591" y="201" width="1" height="29" fill="#000000"/>
<rect x="590" y="229" width="1" height="1" fill="#000000"/>
<rect x="592" y="213" width="1" height="1" fill="#000000"/>
<rect x="593" y="209" width="1" height="45" fill="#dd0000"/>
<rect x="592" y="213" width="1" height="1" fill="#dd0000"/>
<rect x="594" y="239" width="1" height="1" fill="#dd0000"/>
<rect x="596" y="235" width="1" height="23" fill="#dd0000"/>
<rect x="595" y="239" width="1" height="1" fill="#dd0000"/>
<rect x="597" y="257" width="1" height="1" fill="#dd0000"/>
<rect x="599" y="233" width="1" height="34" fill="#000000"/>
<rect x="598" y="257" width="1" height="1" fill="#000000"/>
<rect x="600" y="245" width="1" height="1" fill="#000000"/>
<rect x="601" y="237" width="1" height="38" fill="#dd0000"/>
<rect x="600" y="245" width="1" height="1" fill="#dd0000"/>
<rect x="602" y="270" width="1" height="1" fill="#dd0000"/>
<rect x="604" y="246" width="1" height="25" fill="#000000"/>
<rect x="603" y="270" width="1" height="1" fill="#000000"/>
<rect x="605" y="256" width="1" height="1" fill="#000000"/>
<rect x="607" y="245" width="1" height="20" fill="#dd0000"/>
<rect x="606" y="256" width="1" height="1" fill="#dd0000"/>
<rect x="608" y="261" width="1" height="1" fill="#dd0000"/>
<rect x="609" y="240" width="1" height="27" fill="#dd0000"/>
<rect x="608" y="261" width="1" height="1" fill="#dd0000"/>
<rect x="610" y="264" width="1" height="1" fill="#dd0000"/>
<rect x="612" y="227" width="1" height="37" fill="#000000"/>
<rect x="611" y="263" width="1" height="1" fill="#000000"/>
<rect x="613" y="228" width="1" height="1" fill="#000000"/>
<rect x="614" y="217" width="1" height="13" fill="#000000"/>
<rect x="613" y="228" width="1" height="1" fill="#000000"/>
<rect x="615" y="225" width="1" height="1" fill="#000000"/>
<rect x="617" y="213" width="1" height="16" fill="#000000"/>
<rect x="616" y="225" width="1" height="1" fill="#000000"/>
<rect x="618" y="223" width="1" height="1" fill="#000000"/>
<rect x="620" y="222" width="1" height="14" fill="#dd0000"/>
<rect x="619" y="223" width="1" height="1" fill="#dd0000"/>
<rect x="621" y="230" width="1" height="1" fill="#dd0000"/>
<rect x="622" y="223" width="1" height="17" fill="#dd0000"/>
<rect x="621" y="230" width="1" height="1" fill="#dd0000"/>
<rect x="623" y="231" width="1" height="1" fill="#dd0000"/>
<rect x="625" y="230" width="1" height="16" fill="#dd0000"/>
<rect x="624" y="231" width="1" height="1" fill="#dd0000"/>
<rect x="626" y="238" width="1" height="1" fill="#dd0000"/>
<rect x="628" y="238" width="1" height="21" fill="#dd0000"/>
<rect x="627" y="238" width="1" height="1" fill="#dd0000"/>
<rect x="629" y="247" width="1" height="1" fill="#dd0000"/>
<rect x="630" y="241" width="1" height="22" fill="#dd0000"/>
<rect x="629" y="247" width="1" height="1" fill="#dd0000"/>
<rect x="631" y="256" width="1" height="1" fill="#dd0000"/>
<rect x="633" y="254" width="1" height="70" fill="#dd0000"/>
<rect x="632" y="256" width="1" height="1" fill="#dd0000"/>
<rect x="634" y="289" width="1" height="1" fill="#dd0000"/>
<rect x="635" y="289" width="1" height="40" fill="#dd0000"/>
<rect x="634" y="289" width="1" height="1" fill="#dd0000"/>
<rect x="636" y="318" width="1" height="1" fill="#dd0000"/>
<rect x="638" y="277" width="1" height="61" fill="#000000"/>
<rect x="637" y="318" width="1" height="1" fill="#000000"/>
<rect x="639" y="289" width="1" height="1" fill="#000000"/>
<rect x="641" y="284" width="1" height="39" fill="#dd0000"/>
<rect x="640" y="291" width="1" height="1" fill="#dd0000"/>
<rect x="642" y="301" width="1" height="1" fill="#dd0000"/>
<rect x="643" y="289" width="1" height="22" fill="#000000"/>
<rect x="642" y="301" width="1" height="1" fill="#000000"/>
<rect x="644" y="292" width="1" height="1" fill="#000000"/>
<rect x="646" y="267" width="1" height="26" fill="#000000"/>
<rect x="645" y="292" width="1" height="1" fill="#000000"/>
<rect x="647" y="275" width="1" height="1" fill="#000000"/>
<rect x="649" y="257" width="1" height="18" fill="#000000"/>
<rect x="648" y="274" width="1" height="1" fill="#000000"/>
<rect x="650" y="260" width="1" height="1" fill="#000000"/>
<rect x="651" y="235" width="1" height="35" fill="#000000"/>
<rect x="650" y="260" width="1" height="1" fill="#000000"/>
<rect x="652" y="239" width="1" height="1" fill="#000000"/>
<rect x="654" y="237" width="1" height="18" fill="#dd0000"/>
<rect x="653" y="240" width="1" height="1" fill="#dd0000"/>
<rect x="655" y="246" width="1" height="1" fill="#dd0000"/>
<rect x="656" y="242" width="1" height="17" fill="#dd0000"/>
<rect x="655" y="246" width="1" height="1" fill="#dd0000"/>
<rect x="657" y="255" width="1" height="1" fill="#dd0000"/>
</g>
<line x1="164" y1="196" x2="659" y2="196" stroke="#800080" stroke-width="2" stroke-dasharray="4 2" shape-rendering="crispEdges"/>
<line x1="190.5" y1="103.2" x2="504.5" y2="32.8" stroke="#000" stroke-width="2" stroke-dasharray="4 2"/>
<text x="16.77" y="14.7" font-size="14" font-weight="bold" textLength="32.33" lengthAdjust="spacingAndGlyphs" style="font-family:'Liberation Sans',Arial,sans-serif;fill:#000;stroke:#000;stroke-width:0.3px">$BKX</text>
<text x="53.55" y="14.7" font-size="11.6" font-weight="normal" textLength="127.39" lengthAdjust="spacingAndGlyphs" style="font-family:'Liberation Sans',Arial,sans-serif;fill:#000;stroke:#000;stroke-width:0.16px">(Bank Index - Philadelphia)</text>
<text x="184.95" y="14.0" font-size="9.5" font-weight="normal" textLength="24.23" lengthAdjust="spacing" style="font-family:'Liberation Sans',Arial,sans-serif;fill:#000;stroke:#000;stroke-width:0.16px">INDX</text>
<text x="571.90" y="13.7" font-size="10.5" font-weight="normal" textLength="90.82" lengthAdjust="spacingAndGlyphs" style="font-family:'DejaVu Sans',Verdana,sans-serif;fill:#3e3e44;stroke:#3e3e44;stroke-width:0.12px">© StockCharts.com</text>
<text x="16.23" y="27.2" font-size="10" font-weight="normal" textLength="61.08" lengthAdjust="spacing" style="font-family:'Liberation Sans',Arial,sans-serif;fill:#000;stroke:#000;stroke-width:0.16px">11-May-2012</text>
<text x="227.68" y="27.2" font-size="11.5" font-weight="bold" textLength="28.63" lengthAdjust="spacing" style="font-family:'Liberation Sans',Arial,sans-serif;fill:#000;stroke:#000;stroke-width:0.3px">Open</text>
<text x="260.11" y="27.2" font-size="10" font-weight="normal" textLength="26.04" lengthAdjust="spacing" style="font-family:'Liberation Sans',Arial,sans-serif;fill:#000;stroke:#000;stroke-width:0.16px">48.29</text>
<text x="292.42" y="27.2" font-size="11.5" font-weight="bold" textLength="23.78" lengthAdjust="spacingAndGlyphs" style="font-family:'Liberation Sans',Arial,sans-serif;fill:#000;stroke:#000;stroke-width:0.3px">High</text>
<text x="320.15" y="27.2" font-size="10" font-weight="normal" textLength="26.25" lengthAdjust="spacing" style="font-family:'Liberation Sans',Arial,sans-serif;fill:#000;stroke:#000;stroke-width:0.16px">49.30</text>
<text x="352.36" y="27.2" font-size="11.5" font-weight="bold" textLength="23.74" lengthAdjust="spacing" style="font-family:'Liberation Sans',Arial,sans-serif;fill:#000;stroke:#000;stroke-width:0.3px">Low</text>
<text x="380.06" y="27.2" font-size="10" font-weight="normal" textLength="26.21" lengthAdjust="spacing" style="font-family:'Liberation Sans',Arial,sans-serif;fill:#000;stroke:#000;stroke-width:0.16px">45.81</text>
<text x="412.69" y="27.2" font-size="11.5" font-weight="bold" textLength="31.49" lengthAdjust="spacing" style="font-family:'Liberation Sans',Arial,sans-serif;fill:#000;stroke:#000;stroke-width:0.3px">Close</text>
<text x="447.71" y="27.2" font-size="10" font-weight="normal" textLength="26.02" lengthAdjust="spacing" style="font-family:'Liberation Sans',Arial,sans-serif;fill:#000;stroke:#000;stroke-width:0.16px">46.40</text>
<text x="481.38" y="27.2" font-size="11.5" font-weight="bold" textLength="41.29" lengthAdjust="spacing" style="font-family:'Liberation Sans',Arial,sans-serif;fill:#000;stroke:#000;stroke-width:0.3px">Volume</text>
<text x="526.58" y="27.2" font-size="10" font-weight="normal" textLength="27.76" lengthAdjust="spacing" style="font-family:'Liberation Sans',Arial,sans-serif;fill:#000;stroke:#000;stroke-width:0.16px">57.5B</text>
<text x="560.97" y="27.2" font-size="11.5" font-weight="bold" textLength="21.72" lengthAdjust="spacingAndGlyphs" style="font-family:'Liberation Sans',Arial,sans-serif;fill:#000;stroke:#000;stroke-width:0.3px">Chg</text>
<text x="585.37" y="27.2" font-size="10" font-weight="normal" textLength="67.39" lengthAdjust="spacing" style="font-family:'Liberation Sans',Arial,sans-serif;fill:#000;stroke:#000;stroke-width:0.16px">-1.88 (-3.89%)</text>
<text x="31.25" y="40.0" font-size="9.6" font-weight="normal" textLength="120.55" lengthAdjust="spacing" style="font-family:'DejaVu Sans',Verdana,sans-serif;fill:#000;stroke:#000;stroke-width:0.16px">$BKX (Monthly) 46.40</text>
<text x="29.46" y="50.4" font-size="8.5" font-weight="normal" textLength="65.06" lengthAdjust="spacing" style="font-family:'DejaVu Sans',Verdana,sans-serif;fill:#000080;stroke:#000080;stroke-width:0.2px">EMA(25) 46.60</text>
<text x="671.53" y="451.9" font-size="10" font-weight="normal" textLength="12.07" lengthAdjust="spacing" style="font-family:'Liberation Sans',Arial,sans-serif;fill:#000;stroke:#000;stroke-width:0.16px">20</text>
<text x="671.62" y="400.9" font-size="10" font-weight="normal" textLength="11.99" lengthAdjust="spacing" style="font-family:'Liberation Sans',Arial,sans-serif;fill:#000;stroke:#000;stroke-width:0.16px">25</text>
<text x="671.56" y="358.9" font-size="10" font-weight="normal" textLength="12.03" lengthAdjust="spacing" style="font-family:'Liberation Sans',Arial,sans-serif;fill:#000;stroke:#000;stroke-width:0.16px">30</text>
<text x="671.56" y="323.9" font-size="10" font-weight="normal" textLength="12.05" lengthAdjust="spacing" style="font-family:'Liberation Sans',Arial,sans-serif;fill:#000;stroke:#000;stroke-width:0.16px">35</text>
<text x="672.11" y="292.9" font-size="10" font-weight="normal" textLength="11.54" lengthAdjust="spacing" style="font-family:'Liberation Sans',Arial,sans-serif;fill:#000;stroke:#000;stroke-width:0.16px">40</text>
<text x="672.11" y="265.9" font-size="10" font-weight="normal" textLength="11.14" lengthAdjust="spacing" style="font-family:'Liberation Sans',Arial,sans-serif;fill:#000;stroke:#000;stroke-width:0.16px">45</text>
<text x="671.62" y="241.9" font-size="10" font-weight="normal" textLength="11.97" lengthAdjust="spacing" style="font-family:'Liberation Sans',Arial,sans-serif;fill:#000;stroke:#000;stroke-width:0.16px">50</text>
<text x="671.62" y="219.9" font-size="10" font-weight="normal" textLength="11.99" lengthAdjust="spacing" style="font-family:'Liberation Sans',Arial,sans-serif;fill:#000;stroke:#000;stroke-width:0.16px">55</text>
<text x="671.20" y="199.9" font-size="10" font-weight="normal" textLength="12.39" lengthAdjust="spacing" style="font-family:'Liberation Sans',Arial,sans-serif;fill:#000;stroke:#000;stroke-width:0.16px">60</text>
<text x="671.20" y="181.9" font-size="10" font-weight="normal" textLength="12.41" lengthAdjust="spacing" style="font-family:'Liberation Sans',Arial,sans-serif;fill:#000;stroke:#000;stroke-width:0.16px">65</text>
<text x="671.75" y="164.9" font-size="10" font-weight="normal" textLength="11.84" lengthAdjust="spacing" style="font-family:'Liberation Sans',Arial,sans-serif;fill:#000;stroke:#000;stroke-width:0.16px">70</text>
<text x="671.78" y="148.9" font-size="10" font-weight="normal" textLength="11.83" lengthAdjust="spacing" style="font-family:'Liberation Sans',Arial,sans-serif;fill:#000;stroke:#000;stroke-width:0.16px">75</text>
<text x="671.68" y="134.9" font-size="10" font-weight="normal" textLength="11.92" lengthAdjust="spacing" style="font-family:'Liberation Sans',Arial,sans-serif;fill:#000;stroke:#000;stroke-width:0.16px">80</text>
<text x="671.69" y="120.9" font-size="10" font-weight="normal" textLength="11.54" lengthAdjust="spacing" style="font-family:'Liberation Sans',Arial,sans-serif;fill:#000;stroke:#000;stroke-width:0.16px">85</text>
<text x="671.66" y="107.9" font-size="10" font-weight="normal" textLength="11.95" lengthAdjust="spacing" style="font-family:'Liberation Sans',Arial,sans-serif;fill:#000;stroke:#000;stroke-width:0.16px">90</text>
<text x="671.66" y="94.9" font-size="10" font-weight="normal" textLength="11.96" lengthAdjust="spacing" style="font-family:'Liberation Sans',Arial,sans-serif;fill:#000;stroke:#000;stroke-width:0.16px">95</text>
<text x="666.38" y="82.9" font-size="10" font-weight="normal" textLength="16.86" lengthAdjust="spacing" style="font-family:'Liberation Sans',Arial,sans-serif;fill:#000;stroke:#000;stroke-width:0.16px">100</text>
<text x="666.38" y="71.9" font-size="10" font-weight="normal" textLength="17.08" lengthAdjust="spacing" style="font-family:'Liberation Sans',Arial,sans-serif;fill:#000;stroke:#000;stroke-width:0.16px">105</text>
<text x="666.29" y="61.9" font-size="10" font-weight="normal" textLength="17.01" lengthAdjust="spacing" style="font-family:'Liberation Sans',Arial,sans-serif;fill:#000;stroke:#000;stroke-width:0.16px">110</text>
<text x="666.29" y="50.9" font-size="10" font-weight="normal" textLength="17.25" lengthAdjust="spacing" style="font-family:'Liberation Sans',Arial,sans-serif;fill:#000;stroke:#000;stroke-width:0.16px">115</text>
<text x="666.38" y="41.9" font-size="10" font-weight="normal" textLength="16.86" lengthAdjust="spacing" style="font-family:'Liberation Sans',Arial,sans-serif;fill:#000;stroke:#000;stroke-width:0.16px">120</text>
<text x="4.15" y="494.6" font-size="10" font-weight="normal" textLength="24.25" lengthAdjust="spacing" style="font-family:'Liberation Sans',Arial,sans-serif;fill:#000;stroke:#000;stroke-width:0.16px">1992</text>
<text x="35.15" y="494.6" font-size="10" font-weight="normal" textLength="24.12" lengthAdjust="spacing" style="font-family:'Liberation Sans',Arial,sans-serif;fill:#000;stroke:#000;stroke-width:0.16px">1993</text>
<text x="67.10" y="494.6" font-size="10" font-weight="normal" textLength="23.93" lengthAdjust="spacing" style="font-family:'Liberation Sans',Arial,sans-serif;fill:#000;stroke:#000;stroke-width:0.16px">1994</text>
<text x="98.15" y="494.6" font-size="10" font-weight="normal" textLength="24.16" lengthAdjust="spacing" style="font-family:'Liberation Sans',Arial,sans-serif;fill:#000;stroke:#000;stroke-width:0.16px">1995</text>
<text x="130.15" y="494.6" font-size="10" font-weight="normal" textLength="24.11" lengthAdjust="spacing" style="font-family:'Liberation Sans',Arial,sans-serif;fill:#000;stroke:#000;stroke-width:0.16px">1996</text>
<text x="161.15" y="494.6" font-size="10" font-weight="normal" textLength="24.68" lengthAdjust="spacing" style="font-family:'Liberation Sans',Arial,sans-serif;fill:#000;stroke:#000;stroke-width:0.16px">1997</text>
<text x="193.15" y="494.6" font-size="10" font-weight="normal" textLength="24.11" lengthAdjust="spacing" style="font-family:'Liberation Sans',Arial,sans-serif;fill:#000;stroke:#000;stroke-width:0.16px">1998</text>
<text x="224.15" y="494.6" font-size="10" font-weight="normal" textLength="24.06" lengthAdjust="spacing" style="font-family:'Liberation Sans',Arial,sans-serif;fill:#000;stroke:#000;stroke-width:0.16px">1999</text>
<text x="256.61" y="494.6" font-size="10" font-weight="normal" textLength="23.52" lengthAdjust="spacing" style="font-family:'Liberation Sans',Arial,sans-serif;fill:#000;stroke:#000;stroke-width:0.16px">2000</text>
<text x="288.06" y="494.6" font-size="10" font-weight="normal" textLength="23.20" lengthAdjust="spacing" style="font-family:'Liberation Sans',Arial,sans-serif;fill:#000;stroke:#000;stroke-width:0.16px">2001</text>
<text x="318.66" y="494.6" font-size="10" font-weight="normal" textLength="23.78" lengthAdjust="spacing" style="font-family:'Liberation Sans',Arial,sans-serif;fill:#000;stroke:#000;stroke-width:0.16px">2002</text>
<text x="350.64" y="494.6" font-size="10" font-weight="normal" textLength="23.63" lengthAdjust="spacing" style="font-family:'Liberation Sans',Arial,sans-serif;fill:#000;stroke:#000;stroke-width:0.16px">2003</text>
<text x="382.06" y="494.6" font-size="10" font-weight="normal" textLength="22.94" lengthAdjust="spacing" style="font-family:'Liberation Sans',Arial,sans-serif;fill:#000;stroke:#000;stroke-width:0.16px">2004</text>
<text x="413.64" y="494.6" font-size="10" font-weight="normal" textLength="23.62" lengthAdjust="spacing" style="font-family:'Liberation Sans',Arial,sans-serif;fill:#000;stroke:#000;stroke-width:0.16px">2005</text>
<text x="444.64" y="494.6" font-size="10" font-weight="normal" textLength="23.61" lengthAdjust="spacing" style="font-family:'Liberation Sans',Arial,sans-serif;fill:#000;stroke:#000;stroke-width:0.16px">2006</text>
<text x="476.61" y="494.6" font-size="10" font-weight="normal" textLength="24.14" lengthAdjust="spacing" style="font-family:'Liberation Sans',Arial,sans-serif;fill:#000;stroke:#000;stroke-width:0.16px">2007</text>
<text x="507.64" y="494.6" font-size="10" font-weight="normal" textLength="23.61" lengthAdjust="spacing" style="font-family:'Liberation Sans',Arial,sans-serif;fill:#000;stroke:#000;stroke-width:0.16px">2008</text>
<text x="539.61" y="494.6" font-size="10" font-weight="normal" textLength="23.60" lengthAdjust="spacing" style="font-family:'Liberation Sans',Arial,sans-serif;fill:#000;stroke:#000;stroke-width:0.16px">2009</text>
<text x="571.03" y="494.6" font-size="10" font-weight="normal" textLength="23.14" lengthAdjust="spacing" style="font-family:'Liberation Sans',Arial,sans-serif;fill:#000;stroke:#000;stroke-width:0.16px">2010</text>
<text x="601.99" y="494.6" font-size="10" font-weight="normal" textLength="23.30" lengthAdjust="spacing" style="font-family:'Liberation Sans',Arial,sans-serif;fill:#000;stroke:#000;stroke-width:0.16px">2011</text>
<text x="633.50" y="494.6" font-size="10" font-weight="normal" textLength="23.97" lengthAdjust="spacing" style="font-family:'Liberation Sans',Arial,sans-serif;fill:#000;stroke:#000;stroke-width:0.16px">2012</text>
<path d="M655.2 21.6 L662.2 21.6 L658.7 26.4 Z" fill="#33508c"/>
<g shape-rendering="crispEdges"><rect x="20" y="32" width="1" height="6" fill="#000"/><rect x="19" y="33" width="1" height="1" fill="#000"/><rect x="21" y="36" width="1" height="1" fill="#000"/><rect x="23" y="35" width="1" height="6" fill="#000"/><rect x="22" y="39" width="1" height="1" fill="#000"/><rect x="24" y="39" width="1" height="1" fill="#000"/><rect x="26" y="32" width="1" height="7" fill="#000"/><rect x="25" y="37" width="1" height="1" fill="#000"/><rect x="27" y="35" width="1" height="1" fill="#000"/></g>
<g shape-rendering="crispEdges"><rect x="19" y="46" width="2" height="2" fill="#0a0a96"/><rect x="23" y="46" width="2" height="2" fill="#0a0a96"/><rect x="27" y="46" width="2" height="2" fill="#0a0a96"/></g>
</svg></body></html>
